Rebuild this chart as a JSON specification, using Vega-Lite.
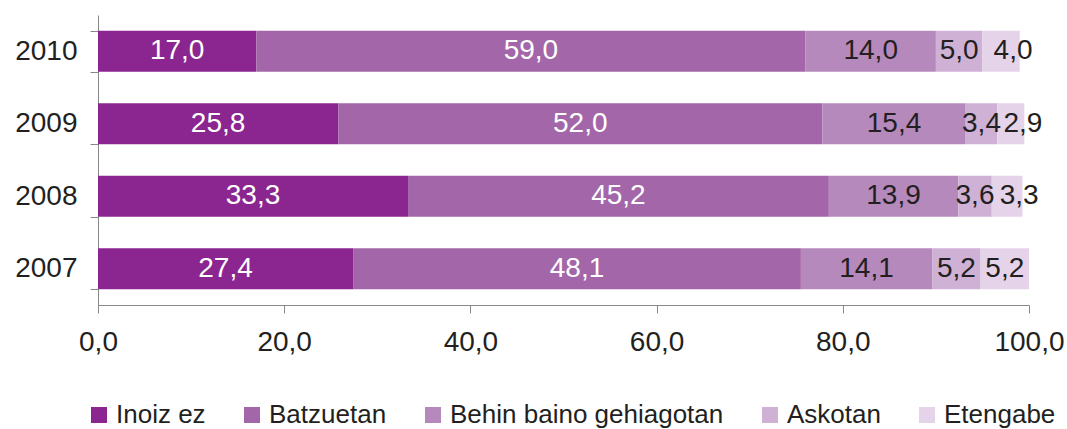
{
  "$schema": "https://vega.github.io/schema/vega-lite/v6.json",
  "width": 931,
  "height": 290,
  "autosize": {"type": "none"},
  "padding": {"left": 98, "top": 15, "right": 38, "bottom": 124},
  "config": {
    "locale": {"number": {"decimal": ",", "thousands": ".", "grouping": [3], "currency": ["", " €"]}},
    "view": {"stroke": null},
    "font": "Liberation Sans"
  },
  "data": {
    "values": [
      {"year": "2010", "cat": "Inoiz ez", "order": 1, "v": 17.0},
      {"year": "2010", "cat": "Batzuetan", "order": 2, "v": 59.0},
      {"year": "2010", "cat": "Behin baino gehiagotan", "order": 3, "v": 14.0},
      {"year": "2010", "cat": "Askotan", "order": 4, "v": 5.0},
      {"year": "2010", "cat": "Etengabe", "order": 5, "v": 4.0},
      {"year": "2009", "cat": "Inoiz ez", "order": 1, "v": 25.8},
      {"year": "2009", "cat": "Batzuetan", "order": 2, "v": 52.0},
      {"year": "2009", "cat": "Behin baino gehiagotan", "order": 3, "v": 15.4},
      {"year": "2009", "cat": "Askotan", "order": 4, "v": 3.4},
      {"year": "2009", "cat": "Etengabe", "order": 5, "v": 2.9},
      {"year": "2008", "cat": "Inoiz ez", "order": 1, "v": 33.3},
      {"year": "2008", "cat": "Batzuetan", "order": 2, "v": 45.2},
      {"year": "2008", "cat": "Behin baino gehiagotan", "order": 3, "v": 13.9},
      {"year": "2008", "cat": "Askotan", "order": 4, "v": 3.6},
      {"year": "2008", "cat": "Etengabe", "order": 5, "v": 3.3},
      {"year": "2007", "cat": "Inoiz ez", "order": 1, "v": 27.4},
      {"year": "2007", "cat": "Batzuetan", "order": 2, "v": 48.1},
      {"year": "2007", "cat": "Behin baino gehiagotan", "order": 3, "v": 14.1},
      {"year": "2007", "cat": "Askotan", "order": 4, "v": 5.2},
      {"year": "2007", "cat": "Etengabe", "order": 5, "v": 5.2}
    ]
  },
  "transform": [
    {"stack": "v", "groupby": ["year"], "sort": [{"field": "order", "order": "ascending"}], "as": ["s0", "s1"]}
  ],
  "encoding": {
    "y": {
      "field": "year",
      "type": "ordinal",
      "sort": ["2010", "2009", "2008", "2007"],
      "scale": {"paddingInner": 0.434, "paddingOuter": 0.217},
      "axis": {
        "title": null,
        "labelFontSize": 28,
        "labelColor": "#231f20",
        "tickSize": 8,
        "tickColor": "#888888",
        "domainColor": "#888888",
        "tickBand": "extent",
        "labelPadding": 13,
        "grid": false
      }
    }
  },
  "layer": [
    {
      "mark": {"type": "bar"},
      "encoding": {
        "x": {
          "field": "s0",
          "type": "quantitative",
          "scale": {"domain": [0, 100], "nice": false},
          "axis": {
            "title": null,
            "values": [0, 20, 40, 60, 80, 100],
            "format": ".1f",
            "labelFontSize": 28,
            "labelColor": "#231f20",
            "tickSize": 8,
            "tickColor": "#888888",
            "domainColor": "#888888",
            "grid": false,
            "labelFlush": false,
            "labelPadding": 15
          }
        },
        "x2": {"field": "s1"},
        "color": {
          "field": "cat",
          "type": "nominal",
          "scale": {
            "domain": ["Inoiz ez", "Batzuetan", "Behin baino gehiagotan", "Askotan", "Etengabe"],
            "range": ["#8b2690", "#a367a9", "#b689bc", "#ceb1d5", "#e5d4e9"]
          },
          "legend": {
            "title": null,
            "orient": "none",
            "legendX": -12,
            "legendY": 387,
            "direction": "horizontal",
            "columns": 5,
            "symbolType": "square",
            "symbolSize": 256,
            "symbolStrokeWidth": 0,
            "labelFontSize": 26,
            "labelColor": "#231f20",
            "labelLimit": 400,
            "columnPadding": 33,
            "labelOffset": 4,
            "padding": 0
          }
        }
      }
    },
    {
      "transform": [
        {"fold": ["s0", "s1"], "as": ["k", "p"]},
        {"aggregate": [{"op": "mean", "field": "p", "as": "mid"}], "groupby": ["year", "cat", "v"]},
        {"filter": "!(datum.cat === 'Etengabe' && datum.v < 5)"}
      ],
      "mark": {"type": "text", "fontSize": 28, "baseline": "middle", "align": "center"},
      "encoding": {
        "x": {"field": "mid", "type": "quantitative"},
        "text": {"field": "v", "type": "quantitative", "format": ".1f"},
        "color": {
          "condition": {"test": "datum.cat === 'Inoiz ez' || datum.cat === 'Batzuetan'", "value": "#ffffff"},
          "value": "#231f20"
        }
      }
    },
    {
      "transform": [
        {"fold": ["s0", "s1"], "as": ["k", "p"]},
        {"aggregate": [{"op": "mean", "field": "p", "as": "mid"}], "groupby": ["year", "cat", "v"]},
        {"filter": "datum.cat === 'Etengabe' && datum.v < 5"}
      ],
      "mark": {"type": "text", "fontSize": 28, "baseline": "middle", "align": "center", "dx": 12, "color": "#231f20"},
      "encoding": {
        "x": {"field": "mid", "type": "quantitative"},
        "text": {"field": "v", "type": "quantitative", "format": ".1f"}
      }
    }
  ]
}
